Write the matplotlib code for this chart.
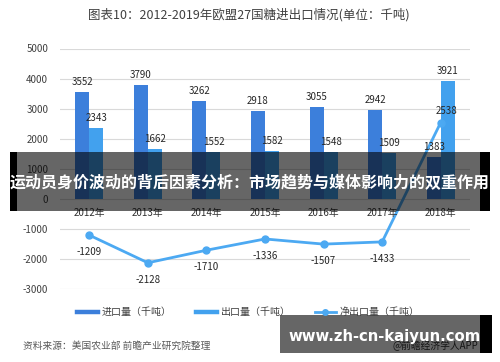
import matplotlib
matplotlib.use('Agg')
import matplotlib.pyplot as plt
from matplotlib.patches import Rectangle
from matplotlib.lines import Line2D
import numpy as np

plt.rcParams['font.family'] = ['Noto Sans CJK SC', 'DejaVu Sans']

title = '图表10：2012-2019年欧盟27国糖进出口情况(单位：千吨)'
years = ['2012年', '2013年', '2014年', '2015年', '2016年', '2017年', '2018年']
imports = [3552, 3790, 3262, 2918, 3055, 2942, 1383]
exports = [2343, 1662, 1552, 1582, 1548, 1509, 3921]
net = [-1209, -2128, -1710, -1336, -1507, -1433, 2538]
yticks = [-3000, -2000, -1000, 0, 1000, 2000, 3000, 4000, 5000]
series_names = ['进口量（千吨）', '出口量（千吨）', '净出口量（千吨）']
banner = '运动员身价波动的背后因素分析：市场趋势与媒体影响力的双重作用'
source = '资料来源：美国农业部 前瞻产业研究院整理'
site = 'www.zh-cn-kaiyun.com'
app = '@前瞻经济学人APP'

c_imp = '#3C7FDB'
c_exp = '#42A1EE'
c_net = '#4CA9F2'
txt = '#404040'

W, H = 500, 362
fig = plt.figure(figsize=(W / 100, H / 100), dpi=100)
ax = fig.add_axes([60 / W, (H - 289) / H, 410 / W, 240.5 / H])

x = np.arange(len(years))
bw = 0.24
ax.bar(x - bw / 2, imports, bw, color=c_imp, zorder=2)
ax.bar(x + bw / 2, exports, bw, color=c_exp, zorder=2)
ax.plot(x, net, color=c_net, lw=2, marker='o', ms=5, zorder=3)

for i in range(len(years)):
    ax.annotate(str(imports[i]), (x[i] - bw / 2, imports[i]), xytext=(0, 7.2),
                textcoords='offset points', ha='center', va='center', fontsize=7, color='#262626', zorder=4)
    ax.annotate(str(exports[i]), (x[i] + bw / 2, exports[i]), xytext=(0, 7.2),
                textcoords='offset points', ha='center', va='center', fontsize=7, color='#262626', zorder=4)
    if net[i] < 0:
        off = (0, -12.2)
    else:
        off = (4, 8)
    ax.annotate(str(net[i]), (x[i], net[i]), xytext=off,
                textcoords='offset points', ha='center', va='center', fontsize=7, color='#262626', zorder=4)
    ax.annotate(years[i], (x[i], 0), xytext=(0, -10.2), textcoords='offset points',
                ha='center', va='center', fontsize=7, color='#333333')

ax.set_xlim(-0.5, len(years) - 0.5)
ax.set_ylim(-3000, 5000)
ax.set_yticks(yticks)
ax.set_yticklabels([str(v) for v in yticks], fontsize=7, color=txt)
ax.set_xticks([])
ax.tick_params(axis='y', length=0, pad=8.5)
ax.grid(axis='y', color='#d9d9d9', lw=0.8)
ax.set_axisbelow(True)
for s in ax.spines.values():
    s.set_visible(False)

fig.text(249 / W, (H - 15) / H, title, fontsize=9, color=txt, ha='center', va='center')

handles = [Line2D([], [], color=c_imp, lw=3.2),
           Line2D([], [], color=c_exp, lw=3.2),
           Line2D([], [], color=c_net, lw=2, marker='o', ms=4)]
leg = fig.legend(handles, series_names, loc='center', bbox_to_anchor=(248 / W, (H - 312) / H),
                 ncol=3, frameon=False, fontsize=7.2, handlelength=2.1, handletextpad=0.4,
                 columnspacing=2.4, borderpad=0, borderaxespad=0)
for t in leg.get_texts():
    t.set_color(txt)

fig.text(23 / W, (H - 346) / H, source, fontsize=7, style='italic', color='#595959', va='center')

# banner overlay
fig.patches.append(Rectangle((17 / W, (H - 211) / H), 463 / W, 59 / H, transform=fig.transFigure,
                             facecolor='black', alpha=0.6, edgecolor='none', zorder=5))
fig.patches.append(Rectangle((10 / W, (H - 211) / H), 7 / W, 59 / H, transform=fig.transFigure,
                             facecolor='black', edgecolor='none', zorder=5))
fig.patches.append(Rectangle((480 / W, (H - 211) / H), 10 / W, 59 / H, transform=fig.transFigure,
                             facecolor='black', edgecolor='none', zorder=5))
fig.text(249.5 / W, (H - 182) / H, banner, fontsize=11.5, fontweight='bold', color='white',
         ha='center', va='center', zorder=6)

# site watermark box
fig.text(478 / W, (H - 346) / H, app, fontsize=7, color='#333333', ha='right', va='center', zorder=4)
fig.patches.append(Rectangle((280 / W, (H - 353) / H), 200 / W, 38 / H, transform=fig.transFigure,
                             facecolor='black', alpha=0.6, edgecolor='none', zorder=5))
fig.patches.append(Rectangle((480 / W, (H - 353) / H), 12 / W, 38 / H, transform=fig.transFigure,
                             facecolor='black', edgecolor='none', zorder=5))
fig.text(385 / W, (H - 336) / H, site, fontsize=10.7, fontweight='bold', color='white',
         family='DejaVu Sans', ha='center', va='center', zorder=6)

fig.savefig('out.png', dpi=100)
